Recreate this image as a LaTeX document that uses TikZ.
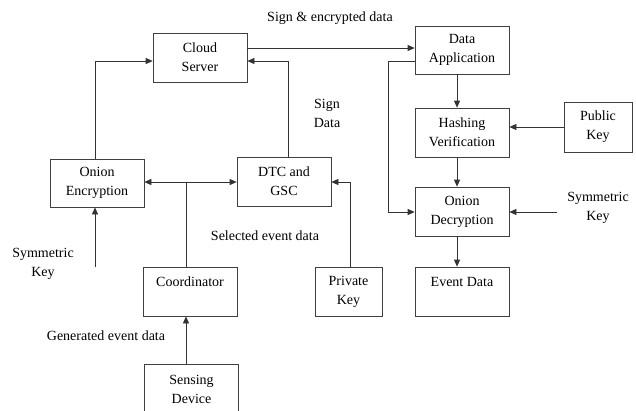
\documentclass[tikz,border=0pt]{standalone}
\usepackage{fontspec}
\setmainfont{Liberation Serif}
\usetikzlibrary{arrows.meta,calc}
\tikzset{
  blk/.style={draw=black!75, line width=0.7pt, rectangle, align=center,
    inner sep=2pt, font=\fontsize{14}{19}\selectfont},
  lbl/.style={align=center, inner sep=0pt, font=\fontsize{14}{19}\selectfont},
  link/.style={draw=black!80, line width=0.7pt},
  arr/.style={link, -{Triangle[length=7pt,width=6pt]}},
  darr/.style={link, {Triangle[length=7pt,width=6pt]}-{Triangle[length=7pt,width=6pt]}}
}
\begin{document}
\begin{tikzpicture}[x=1pt,y=-1pt]
\clip (0,0) rectangle (636,410);
\fill[white] (0,0) rectangle (636,410);

% left half: sensing side
\node[blk, minimum width=94, minimum height=49] (cs) at (200,57.5) {Cloud\\Server};
\node[blk, minimum width=94, minimum height=48] (oe) at (97,183) {Onion\\Encryption};
\node[blk, minimum width=94, minimum height=49] (dtc) at (284,181.5) {DTC and\\GSC};
\node[blk, minimum width=94, minimum height=49] (co) at (190,291.5) {Coordinator\\\mbox{}};
\node[blk, minimum width=94, minimum height=50, anchor=north] (sd) at (191.5,364) {Sensing\\Device};
\node[blk, minimum width=67, minimum height=49] (pk) at (348.5,291.5) {Private\\Key};

% right half: application side
\node[blk, minimum width=94, minimum height=48] (da) at (462,50) {Data\\Application};
\node[blk, minimum width=94, minimum height=49] (hv) at (462,132.5) {Hashing\\Verification};
\node[blk, minimum width=68, minimum height=50] (pub) at (598,127) {Public\\Key};
\node[blk, minimum width=94, minimum height=49] (od) at (462,211.5) {Onion\\Decryption};
\node[blk, minimum width=94, minimum height=49] (ed) at (462,291.5) {Event Data\\\mbox{}};

% free labels
\node[lbl] (l1) at (330,18) {Sign \& encrypted data};
\node[lbl] (l2) at (327,113.5) {Sign\\Data};
\node[lbl] (l3) at (43,264) {Symmetric\\Key};
\node[lbl] (l4) at (265,236) {Selected event data};
\node[lbl] (l5) at (106,336) {Generated event data};
\node[lbl] (l6) at (598,207.5) {Symmetric\\Key};

% free ends
\coordinate (skl) at (95,267);
\coordinate (skr) at (557,212);
\coordinate (jn) at (186,182);

% connectors
\draw[arr] (oe.north -| 95,0) |- (cs.west |- 0,61);
\draw[arr] (dtc.north -| 288,0) |- (cs.east |- 0,61);
\draw[darr] (oe.east |- jn) -- (dtc.west |- jn);
\draw[link] (co.north -| jn) -- (jn);
\draw[arr] (skl) -- (skl |- oe.south);
\draw[arr] (sd.north -| jn) -- (co.south -| jn);
\draw[arr] (pk.north -| 350,0) |- (dtc.east |- jn);

\draw[arr] (cs.east |- 0,48) -- (da.west |- 0,48);
\draw[arr] (da.west |- 0,61) -| (388,212) -- (od.west |- skr);
\draw[arr] (da.south -| 457,0) -- (hv.north -| 457,0);
\draw[arr] (pub.west) -- (hv.east |- pub.west);
\draw[arr] (hv.south -| 457,0) -- (od.north -| 457,0);
\draw[arr] (skr) -- (od.east |- skr);
\draw[arr] (od.south -| 457,0) -- (ed.north -| 457,0);
\end{tikzpicture}
\end{document}
